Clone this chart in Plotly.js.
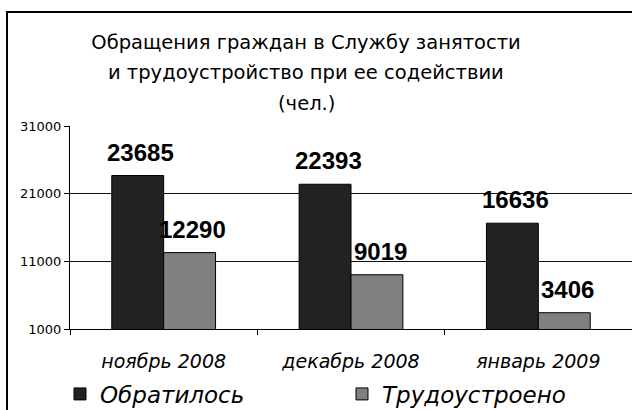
<!DOCTYPE html>
<html>
<head>
<meta charset="utf-8">
<script src="https://cdn.plot.ly/plotly-3.0.1.min.js"></script>
<style>html,body{margin:0;padding:0;background:#fff;}#chart{width:632px;height:410px;}</style>
</head>
<body>
<div id="chart"></div>
<script>
const categories = ['ноябрь 2008', 'декабрь 2008', 'январь 2009'];
const applied = [23685, 22393, 16636];
const employed = [12290, 9019, 3406];
const seriesNames = ['Обратилось', 'Трудоустроено'];
const yTicks = [1000, 11000, 21000, 31000];
const titleLines = ['Обращения граждан в Службу занятости', 'и трудоустройство при ее содействии', '(чел.)'];

const FONT = 'DejaVu Sans, Verdana, sans-serif';

const traces = [
  {type: 'bar', name: seriesNames[0], x: categories, y: applied,
   marker: {color: '#222222', line: {color: '#000', width: 1}}, hoverinfo: 'none'},
  {type: 'bar', name: seriesNames[1], x: categories, y: employed,
   marker: {color: '#808080', line: {color: '#000', width: 1}}, hoverinfo: 'none'}
];

const annotations = [];
[applied, employed].forEach(function (vals, s) {
  vals.forEach(function (v, i) {
    annotations.push({
      xref: 'x', yref: 'y', x: categories[i], y: v,
      xshift: (s === 0 ? -26 : 26) + 3, yshift: 8,
      yanchor: 'bottom', showarrow: false,
      text: String(v),
      font: {family: 'Liberation Sans, Arial, sans-serif', size: 24, color: '#000', weight: 'bold'}
    });
  });
});
annotations.push({xref: 'paper', yref: 'paper', x: 0.42, y: 1.266, yanchor: 'middle', showarrow: false,
  text: titleLines[1], font: {family: FONT, size: 19.5, color: '#000'}});
annotations.push({xref: 'paper', yref: 'paper', x: 0.42, y: 1.113, yanchor: 'middle', showarrow: false,
  text: titleLines[2], font: {family: FONT, size: 19.5, color: '#000'}});

const layout = {
  width: 632, height: 410,
  margin: {l: 70, r: 0, t: 126, b: 81, autoexpand: false},
  paper_bgcolor: '#fff', plot_bgcolor: '#fff',
  title: {text: titleLines[0], x: 0.4842, xanchor: 'center', y: 0.8976, yanchor: 'middle',
    font: {family: FONT, size: 19.5, color: '#000'}},
  barmode: 'group', bargap: 0.446, bargroupgap: 0,
  xaxis: {type: 'category', range: [-0.5, 2.5], tickson: 'boundaries', ticks: 'outside', ticklen: 5,
    tickcolor: '#000', showline: true, linecolor: '#000', linewidth: 1, showgrid: false,
    ticklabelstandoff: 15, automargin: false,
    tickfont: {family: FONT, size: 19, color: '#000', style: 'italic'}},
  yaxis: {range: [1000, 31000], tickvals: yTicks, ticktext: yTicks.map(String), ticks: 'outside', ticklen: 5,
    tickcolor: '#000', showline: true, linecolor: '#000', linewidth: 1, showgrid: true, gridcolor: '#111',
    gridwidth: 1, zeroline: false, automargin: false, tickfont: {family: FONT, size: 13, color: '#000'}},
  showlegend: true,
  legend: {orientation: 'h', x: -0.0178, y: -0.32, xanchor: 'left', yanchor: 'middle', entrywidth: 237,
    bgcolor: 'rgba(0,0,0,0)', traceorder: 'normal',
    font: {family: FONT, size: 23, color: '#000', style: 'italic'}},
  annotations: annotations,
  shapes: [{type: 'rect', xref: 'paper', yref: 'paper', x0: -0.1121, x1: 1.2, y0: -0.8, y1: 1.5616,
    line: {color: '#000', width: 2}, fillcolor: 'rgba(0,0,0,0)', layer: 'above'}]
};

Plotly.newPlot('chart', traces, layout, {displayModeBar: false, responsive: false});
</script>
</body>
</html>
